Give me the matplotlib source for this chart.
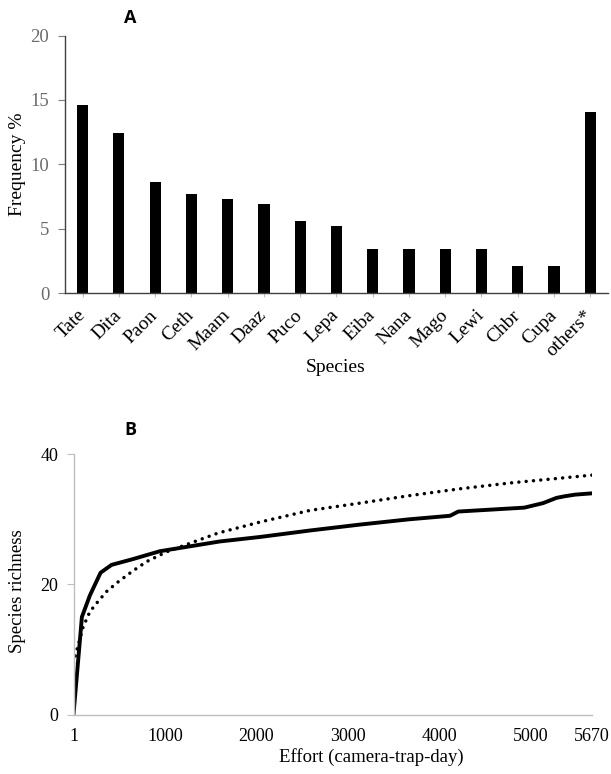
import matplotlib
matplotlib.use("Agg")
import matplotlib.pyplot as plt
import numpy as np

# ---- Data ----
species = ["Tate", "Dita", "Paon", "Ceth", "Maam", "Daaz", "Puco", "Lepa",
           "Eiba", "Nana", "Mago", "Lewi", "Chbr", "Cupa", "others*"]
frequency = [14.6, 12.4, 8.6, 7.7, 7.3, 6.9, 5.6, 5.2,
             3.4, 3.4, 3.4, 3.4, 2.1, 2.1, 14.1]

obs_effort = [1, 93, 180, 297, 417, 653, 945, 1600, 2045, 2594, 3136, 3666,
              4118, 4208, 4930, 5136, 5281, 5372, 5485, 5670]
obs_richness = [0, 15.0, 18.3, 21.8, 23.0, 23.9, 25.1, 26.6, 27.3, 28.3, 29.2,
                30.0, 30.55, 31.2, 31.8, 32.5, 33.3, 33.55, 33.8, 34.0]

est_effort = [1, 35, 107, 180, 253, 362, 490, 653, 800, 1018, 1309, 1582,
              2045, 2594, 3136, 3650, 4227, 4779, 5670]
est_richness = [7.9, 9.8, 13.5, 15.8, 17.1, 18.9, 20.4, 22.1, 23.5, 25.0,
                26.5, 27.9, 29.6, 31.4, 32.5, 33.6, 34.7, 35.6, 36.8]

freq_ticks = [0, 5, 10, 15, 20]
rich_ticks = [0, 20, 40]
effort_ticks = [1, 1000, 2000, 3000, 4000, 5000, 5670]

plt.rcParams['font.family'] = ['Liberation Serif', 'DejaVu Serif']

W, H = 611, 774
fig = plt.figure(figsize=(W / 100, H / 100), dpi=100)

def frac(l, t, r, b):
    return [l / W, 1 - b / H, (r - l) / W, (b - t) / H]

# ---- Panel A ----
axA = fig.add_axes(frac(64.5, 35.5, 608.3, 293.3))
x = np.arange(len(species))
axA.bar(x, frequency, width=0.31, color='black')
axA.set_xlim(-0.5, len(species) - 0.5)
axA.set_ylim(0, 20)
axA.set_yticks(freq_ticks)
axA.set_yticklabels([str(t) for t in freq_ticks], color='#6b6b6b', fontsize=13.5)
axA.set_xticks(x)
axA.set_xticklabels(species, rotation=45, ha='right', va='center',
                    rotation_mode='anchor', fontsize=14)
for spine in ['top', 'right']:
    axA.spines[spine].set_visible(False)
for spine in ['left', 'bottom']:
    axA.spines[spine].set_color('#404040')
    axA.spines[spine].set_linewidth(1.0)
axA.tick_params(axis='y', length=5, color='#7f7f7f', pad=6)
axA.tick_params(axis='x', length=3, color='#bfbfbf', pad=11)
fig.text(18 / W, 1 - 164 / H, "Frequency %", fontsize=14, rotation=90,
         ha='center', va='center')
fig.text(336 / W, 1 - 368 / H, "Species", fontsize=14,
         ha='center', va='center')
fig.text(130 / W, 1 - 18 / H, "A", fontsize=13, fontweight='bold',
         family='Open Sans', ha='center', va='center')

# ---- Panel B ----
axB = fig.add_axes(frac(73.5, 454.3, 592, 714.5))
axB.plot(obs_effort, obs_richness, color='black', linewidth=2.8,
         solid_joinstyle='round', solid_capstyle='round')
axB.plot(est_effort, est_richness, color='black', linewidth=2.5,
         linestyle=(0, (0.01, 2.1)), dash_capstyle='round')
axB.set_xlim(1, 5670)
axB.set_ylim(0, 40)
axB.set_yticks(rich_ticks)
axB.set_yticklabels([str(t) for t in rich_ticks], fontsize=13)
axB.set_xticks(effort_ticks)
axB.set_xticklabels([str(t) for t in effort_ticks], fontsize=13)
axB.tick_params(axis='x', length=0, pad=10)
axB.set_xticks([3000], minor=True)
axB.tick_params(axis='x', which='minor', length=4, color='#bfbfbf')
axB.tick_params(axis='y', length=5, color='#bfbfbf', pad=6)
for spine in ['top', 'right']:
    axB.spines[spine].set_visible(False)
for spine in ['left', 'bottom']:
    axB.spines[spine].set_color('#bfbfbf')
    axB.spines[spine].set_linewidth(1.0)
fig.text(17.5 / W, 1 - 591 / H, "Species richness", fontsize=13.5, rotation=90,
         ha='center', va='center')
fig.text(371 / W, 1 - 757 / H, "Effort (camera-trap-day)", fontsize=13.5,
         ha='center', va='center')
fig.text(130 / W, 1 - 430 / H, "B", fontsize=13, fontweight='bold',
         family='Open Sans', ha='center', va='center')

fig.savefig("out.png", dpi=100)
